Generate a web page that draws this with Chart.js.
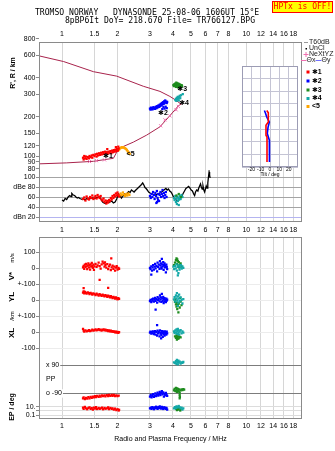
<!DOCTYPE html>
<html>
<head>
<meta charset="utf-8">
<script src="https://cdn.jsdelivr.net/npm/chart.js@4.4.1/dist/chart.umd.min.js"></script>
<style>
  body { margin: 0; background: #fff; }
  #wrap { position: relative; width: 335px; height: 451px; overflow: hidden; background: #fff; }
  canvas { position: absolute; left: 0; top: 0; }
  .hdr { position: absolute; font: 8.1px 'DejaVu Sans Mono', monospace; line-height: 9px; white-space: pre; color: #000; }
  #hptx { position: absolute; left: 272px; top: 1px; width: 59px; height: 10px; background: #ffff00; border: 1px solid #ff0000;
          color: #ff0000; font: 8px 'DejaVu Sans Mono', monospace; line-height: 10px; text-align: center; }
</style>
</head>
<body>
<div id="wrap">
  <canvas id="topChart" width="335" height="245"></canvas>
  <canvas id="lowChart" width="335" height="451"></canvas>
  <canvas id="tiltChart" width="335" height="190"></canvas>
  <div class="hdr" style="left:35px;top:8px">TROMSO NORWAY   DYNASONDE 25-08-06 1606UT 15°E</div>
  <div class="hdr" style="left:65px;top:16px">8pBP6It DoY= 218.670 File= TR766127.BPG</div>
  <div id="hptx">HPTx is OFF!</div>
</div>
<script>
// ---- axes ----
const FREQ_MIN = 0.75, FREQ_MAX = 20.05;
const freqTicks = [1, 1.5, 2, 3, 4, 5, 6, 7, 8, 10, 12, 14, 16, 18];
const heightTicks = [80, 90, 100, 120, 150, 200, 300, 400, 600, 800];
const ampTicks = [20, 40, 60, 80, 100];
const tiltTicks = [-20, -10, 0, 10, 20];

// ---- model profiles, MHz / km ----
const upperCurveFreq = [0.75, 1.02, 1.48, 1.98, 2.76, 3.4, 3.85, 4.1, 4.4];
const upperCurveHt = [592, 535, 447, 413, 345, 315, 288, 272, 253];
const lowerCurveFreq = [0.75, 1.06, 1.48, 1.9, 1.98, 2.11, 2.44, 2.88, 3.4, 3.84, 4.1, 4.28, 4.46];
const lowerCurveHt = [87, 88.5, 91, 96, 107, 117, 128, 145, 168, 204, 227, 244, 253];
const nextyzFreq = [1.41, 1.54, 1.70, 3.43, 3.62, 3.85, 4.16, 4.28];
const nextyzHt = [90.6, 92, 93.4, 171, 190, 204, 227, 241];

// ---- echoes: virtual height [MHz, km] ----
const htRed = [[1.30,97],[1.31,94],[1.32,100],[1.33,96],[1.35,99],[1.36,95],[1.38,98],[1.40,96],[1.41,100],[1.43,98],[1.45,101],[1.46,97],[1.48,102],[1.50,100],[1.52,103],[1.54,99],[1.55,104],[1.57,101],[1.59,105],[1.61,102],[1.63,106],[1.65,103],[1.67,107],[1.69,104],[1.71,108],[1.73,105],[1.75,107],[1.77,104],[1.79,108],[1.81,106],[1.83,109],[1.85,105],[1.87,110],[1.89,107],[1.91,111],[1.93,108],[1.95,112],[1.97,109],[1.99,113],[2.01,110],[2.03,114],[1.76,113],[1.96,117],[2.02,118]];
const htOrange = [[2.03,111],[2.05,113],[2.07,115],[2.09,116],[2.11,117],[2.13,116],[2.15,117],[2.17,116],[2.19,115],[2.21,114],[2.23,113],[2.25,111],[2.27,109],[2.29,107],[2.31,105],[2.33,104]];
const htBlue = [[3.00,232],[3.02,228],[3.04,236],[3.06,230],[3.08,234],[3.10,229],[3.13,238],[3.16,232],[3.18,236],[3.20,231],[3.23,240],[3.26,234],[3.28,242],[3.30,237],[3.33,245],[3.36,239],[3.38,248],[3.40,242],[3.43,252],[3.46,245],[3.48,256],[3.50,249],[3.53,260],[3.56,252],[3.58,264],[3.60,256],[3.63,268],[3.66,259],[3.68,263],[3.70,256],[3.72,261],[3.50,230],[3.60,232],[3.70,234],[3.65,240],[3.55,238]];
const htGreen = [[4.02,352],[4.05,346],[4.07,358],[4.10,349],[4.12,362],[4.14,354],[4.17,368],[4.19,358],[4.21,350],[4.23,364],[4.25,355],[4.28,346],[4.30,360],[4.32,351],[4.35,343],[4.37,356],[4.40,348],[4.43,340],[4.46,352],[4.48,345],[4.15,341],[4.26,338]];
const htCyan = [[4.12,270],[4.15,276],[4.17,266],[4.20,281],[4.22,272],[4.25,286],[4.27,277],[4.30,268],[4.32,283],[4.35,291],[4.38,279],[4.42,294],[4.52,300]];

// ---- echo amplitude [MHz, dB] ----
const ampRed = [[1.30,56],[1.32,59],[1.34,53],[1.36,61],[1.38,57],[1.40,55],[1.42,60],[1.44,58],[1.46,63],[1.48,56],[1.50,59],[1.52,62],[1.54,57],[1.56,64],[1.58,60],[1.60,58],[1.62,62],[1.64,55],[1.66,53],[1.68,57],[1.70,50],[1.72,53],[1.74,47],[1.76,52],[1.78,49],[1.80,54],[1.82,52],[1.84,58],[1.86,55],[1.88,62],[1.90,58],[1.92,64],[1.94,61],[1.96,67],[1.98,63],[2.00,69],[2.02,65],[2.04,61]];
const ampOrange = [[2.05,63],[2.08,67],[2.11,64],[2.14,69],[2.17,65],[2.20,62],[2.23,66],[2.26,63],[2.29,67],[2.32,64]];
const ampBlue = [[3.00,62],[3.03,58],[3.06,66],[3.09,60],[3.12,70],[3.15,64],[3.18,56],[3.21,68],[3.24,62],[3.27,72],[3.30,58],[3.33,66],[3.36,52],[3.39,64],[3.42,70],[3.45,60],[3.48,66],[3.51,74],[3.54,62],[3.57,68],[3.60,58],[3.63,64],[3.66,70],[3.69,60],[3.25,48],[3.28,50],[3.32,54]];
const ampCyan = [[4.05,58],[4.08,54],[4.12,62],[4.15,50],[4.18,56],[4.20,46],[4.22,60],[4.25,52],[4.28,58],[4.30,44],[4.32,55],[4.35,62],[4.40,56],[4.45,64],[4.50,60]];
const ampGreen = [[4.18,63],[4.30,66],[4.42,60]];
const ampSweep = [[1.00,54],[1.02,52],[1.04,57],[1.06,55],[1.08,60],[1.10,63],[1.12,61],[1.13,67],[1.15,64],[1.17,63],[1.19,60],[1.21,58],[1.23,59],[1.25,57],[1.27,56],[1.29,55],[1.31,56],[1.33,54],[1.36,57],[1.40,56],[1.45,58],[1.50,57],[1.55,59],[1.60,60],[1.63,55],[1.66,50],[1.69,48],[1.72,47],[1.75,50],[1.78,49],[1.82,50],[1.86,52],[1.90,48],[1.94,50],[1.98,56],[2.02,66],[2.06,63],[2.10,58],[2.14,62],[2.18,66],[2.22,64],[2.26,68],[2.30,71],[2.34,69],[2.38,74],[2.42,72],[2.46,70],[2.50,73],[2.55,76],[2.60,79],[2.65,82],[2.70,85],[2.74,88],[2.78,84],[2.82,79],[2.86,77],[2.90,74],[2.95,70],[3.00,68],[3.10,66],[3.20,64],[3.30,66],[3.40,68],[3.50,71],[3.60,75],[3.66,77],[3.72,74],[3.78,76],[3.84,72],[3.90,70],[3.96,66],[4.05,58],[4.15,55],[4.25,52],[4.35,56],[4.45,60],[4.54,67],[4.62,72],[4.70,77],[4.78,79],[4.86,81],[4.94,78],[5.02,74],[5.10,72],[5.18,66],[5.24,63],[5.30,70],[5.38,74],[5.46,72],[5.52,78],[5.58,82],[5.64,86],[5.70,80],[5.76,76],[5.82,82],[5.88,74],[5.94,70],[6.00,76],[6.06,82],[6.12,78],[6.18,88],[6.24,102],[6.28,110],[6.32,104],[6.36,98]];

// ---- lower panel: V* [m/s], YL, XL [km], PP [deg], EP [deg] ----
const vsRed = [[1.30,5],[1.31,15],[1.32,-3],[1.33,22],[1.34,8],[1.35,28],[1.36,12],[1.37,-5],[1.38,18],[1.39,30],[1.40,6],[1.41,20],[1.42,-8],[1.43,25],[1.44,10],[1.45,33],[1.46,15],[1.47,2],[1.48,22],[1.49,-10],[1.50,12],[1.52,27],[1.54,8],[1.56,18],[1.58,35],[1.60,14],[1.62,-2],[1.64,24],[1.66,42],[1.68,30],[1.70,10],[1.71,36],[1.72,20],[1.74,4],[1.76,26],[1.78,-6],[1.80,12],[1.82,22],[1.84,-12],[1.86,6],[1.88,16],[1.90,-4],[1.92,10],[1.94,-15],[1.96,4],[1.98,14],[2.00,-8],[2.02,2],[2.04,-3],[1.60,-73],[1.85,62]];
const ylRed = [[1.30,48],[1.31,55],[1.32,44],[1.33,52],[1.35,47],[1.36,42],[1.38,50],[1.40,45],[1.41,38],[1.43,46],[1.45,40],[1.46,35],[1.48,43],[1.50,38],[1.52,33],[1.54,41],[1.56,36],[1.58,30],[1.60,38],[1.62,33],[1.64,28],[1.66,35],[1.68,30],[1.70,25],[1.72,32],[1.74,27],[1.76,22],[1.78,29],[1.80,24],[1.82,18],[1.84,26],[1.86,20],[1.88,14],[1.90,22],[1.92,16],[1.94,10],[1.96,18],[1.98,12],[2.00,6],[2.02,14],[2.04,9],[1.31,76],[1.78,78]];
const xlRed = [[1.30,22],[1.31,10],[1.32,4],[1.34,12],[1.36,6],[1.38,9],[1.40,14],[1.42,8],[1.44,11],[1.46,16],[1.48,10],[1.50,13],[1.52,18],[1.54,12],[1.56,15],[1.58,20],[1.60,13],[1.62,17],[1.64,11],[1.66,15],[1.68,19],[1.70,12],[1.72,16],[1.74,10],[1.76,14],[1.78,8],[1.80,12],[1.82,6],[1.84,10],[1.86,4],[1.88,8],[1.90,2],[1.92,6],[1.94,0],[1.96,4],[1.98,-2],[2.00,3],[2.02,-4],[2.04,1]];
const ppRed = [[1.30,-122],[1.31,-116],[1.33,-126],[1.35,-119],[1.37,-124],[1.39,-114],[1.41,-121],[1.43,-112],[1.45,-118],[1.47,-110],[1.49,-116],[1.51,-108],[1.53,-114],[1.55,-106],[1.58,-112],[1.60,-104],[1.62,-110],[1.65,-102],[1.67,-108],[1.70,-103],[1.72,-109],[1.75,-101],[1.78,-107],[1.80,-100],[1.83,-106],[1.86,-99],[1.88,-105],[1.91,-100],[1.94,-107],[1.97,-102],[2.00,-108],[2.03,-104]];
const epRed = [[1.30,6],[1.31,3],[1.33,9],[1.35,4],[1.37,2.5],[1.39,5],[1.41,7],[1.43,3],[1.45,4.5],[1.47,2],[1.49,6],[1.51,3.5],[1.53,8],[1.55,2.8],[1.58,5],[1.60,3],[1.62,4],[1.65,6],[1.67,2.4],[1.70,5],[1.72,3.2],[1.75,4],[1.78,7],[1.80,2.6],[1.83,5],[1.86,3],[1.88,4],[1.91,2],[1.94,3.5],[1.97,1.5],[2.00,2.5],[2.03,1.2],[2.04,1.8]];
const vsBlue = [[3.00,2],[3.02,-5],[3.05,12],[3.08,-15],[3.10,5],[3.12,20],[3.15,-8],[3.18,10],[3.20,28],[3.22,0],[3.25,15],[3.28,-20],[3.30,35],[3.32,8],[3.35,22],[3.38,-3],[3.40,45],[3.42,18],[3.44,30],[3.46,5],[3.48,58],[3.50,25],[3.52,12],[3.54,38],[3.56,-10],[3.58,20],[3.60,30],[3.62,6],[3.64,15],[3.66,-25],[3.68,22],[3.70,8],[3.72,-5],[3.05,-40],[3.47,-2]];
const ylBlue = [[3.00,-5],[3.02,3],[3.05,-12],[3.08,6],[3.10,-2],[3.12,10],[3.15,-8],[3.18,4],[3.20,15],[3.22,-4],[3.25,8],[3.28,-15],[3.30,20],[3.32,2],[3.35,12],[3.38,-6],[3.40,30],[3.42,6],[3.44,18],[3.46,-10],[3.48,40],[3.50,10],[3.52,-3],[3.54,22],[3.56,-18],[3.58,8],[3.60,14],[3.62,-6],[3.64,2],[3.66,-12],[3.68,10],[3.70,-2],[3.72,4],[3.22,-58]];
const xlBlue = [[3.00,-2],[3.02,4],[3.05,-8],[3.08,2],[3.10,-5],[3.12,6],[3.15,-12],[3.18,0],[3.20,8],[3.22,-15],[3.25,3],[3.28,-20],[3.30,10],[3.32,-6],[3.35,2],[3.38,-25],[3.40,12],[3.42,-8],[3.44,-2],[3.46,-18],[3.48,8],[3.50,-4],[3.52,-28],[3.54,5],[3.56,-12],[3.58,-2],[3.60,-20],[3.62,6],[3.64,-8],[3.66,0],[3.68,-14],[3.70,4],[3.72,-6],[3.28,45],[3.45,-38]];
const ppBlue = [[3.00,-110],[3.03,-100],[3.06,-115],[3.09,-105],[3.12,-95],[3.15,-112],[3.18,-102],[3.21,-90],[3.24,-108],[3.27,-98],[3.30,-85],[3.33,-104],[3.36,-94],[3.39,-80],[3.42,-100],[3.45,-88],[3.48,-75],[3.51,-96],[3.54,-84],[3.57,-110],[3.60,-92],[3.63,-102],[3.66,-86],[3.69,-98],[3.72,-106]];
const epBlue = [[3.00,4],[3.03,6],[3.06,3],[3.09,8],[3.12,5],[3.15,2.5],[3.18,7],[3.21,4],[3.24,10],[3.27,5],[3.30,3],[3.33,8],[3.36,4.5],[3.39,12],[3.42,6],[3.45,3.5],[3.48,9],[3.51,5],[3.54,2.8],[3.57,7],[3.60,4],[3.63,6],[3.66,3],[3.69,5],[3.72,2]];
const vsGreen = [[4.05,20],[4.10,35],[4.15,50],[4.18,62],[4.20,28],[4.25,45],[4.28,15],[4.30,38],[4.35,22],[4.40,30],[4.45,10],[4.22,55],[4.32,5]];
const vsCyan = [[4.02,10],[4.06,-5],[4.10,15],[4.14,0],[4.18,25],[4.20,-15],[4.24,8],[4.28,-30],[4.30,18],[4.34,-8],[4.38,5],[4.42,20],[4.46,-2],[4.50,12],[4.55,3],[4.25,-45]];
const ylGreen = [[4.10,-10],[4.15,-25],[4.18,-40],[4.20,-15],[4.22,-55],[4.25,-30],[4.28,-75],[4.30,-20],[4.35,-45],[4.40,-8],[4.45,-30],[4.12,5],[4.38,15]];
const ylCyan = [[4.05,5],[4.08,20],[4.12,-8],[4.15,30],[4.18,12],[4.20,45],[4.22,0],[4.25,25],[4.28,-15],[4.30,10],[4.32,35],[4.35,-5],[4.40,18],[4.45,2],[4.50,-20],[4.55,8],[4.25,-35]];
const xlGreen = [[4.10,-25],[4.15,-35],[4.18,-20],[4.20,-45],[4.22,-30],[4.25,-40],[4.28,-22],[4.30,-38],[4.35,-28],[4.40,-32]];
const xlCyan = [[4.05,5],[4.08,-5],[4.12,12],[4.15,0],[4.18,18],[4.20,-10],[4.22,8],[4.25,22],[4.28,-3],[4.30,10],[4.32,-15],[4.35,4],[4.40,14],[4.45,-6],[4.50,6],[4.55,-2]];
const ppGreen = [[4.05,-70],[4.08,-60],[4.12,-75],[4.15,-55],[4.18,-68],[4.20,-80],[4.22,-58],[4.25,-72],[4.28,-62],[4.30,-78],[4.32,-66],[4.35,-85],[4.35,-100],[4.36,-112],[4.35,-122],[4.40,-70],[4.45,-64],[4.50,-68],[4.55,-62],[4.60,-66]];
const ppCyan = [[4.05,110],[4.10,105],[4.15,118],[4.18,100],[4.20,125],[4.22,112],[4.25,96],[4.28,120],[4.30,108],[4.35,115],[4.40,102],[4.45,110],[4.50,106],[4.55,112]];
const epCyan = [[4.05,4],[4.10,8],[4.15,3],[4.18,12],[4.20,6],[4.22,2.5],[4.25,9],[4.28,5],[4.30,15],[4.32,4],[4.35,7],[4.40,3],[4.45,6],[4.50,2],[4.55,4]];
const epGreen = [[4.20,1.5],[4.28,2],[4.38,1.2]];

// ---- tilt profiles [deg, km] ----
const thetaXDeg = [-3.5, -1.8, -1.8, -4.3, -4.3, -3.2, -3.2];
const thetaXHt = [224, 215, 178, 165, 126, 118, 20];
const thetaYDeg = [-6, -4.8, -3.5, -0.7, -2.1, -2.9, -0.7, -0.5, -0.7];
const thetaYHt = [224, 213, 198, 178, 157, 133, 106, 66, 20];

// trace tags inside the height panel [text, MHz, km]
const tagSpots = [['✱1', 1.67, 100], ['✱2', 3.32, 215], ['✱3', 4.22, 331], ['✱4', 4.32, 257], ['<5', 2.24, 103]];

const RED = '#ff0000', BLUE = '#0000ff', GREEN = '#1e8c1e', CYAN = '#14a8a8', ORANGE = '#ffa500';
const MAROON = '#a8234c', PINK = '#f070b0', FRAME = '#8a8a8a', VGRID = '#d6d6d6';
const FONT = "'Liberation Sans', 'DejaVu Sans', sans-serif";

Chart.defaults.font.family = FONT;
Chart.defaults.font.size = 7;
Chart.defaults.color = '#000';
Chart.defaults.animation = false;

const xy = list => list.map(([x, y]) => ({x, y}));
const zip = (xs, ys) => xs.map((x, i) => ({x, y: ys[i]}));

function dots(list, color, yAxisID) {
  return {type: 'scatter', data: xy(list), yAxisID, backgroundColor: color, borderWidth: 0,
          pointStyle: 'rect', pointRadius: 1.6, pointHoverRadius: 1.6};
}
function trace(data, color, yAxisID, width) {
  return {type: 'line', data, yAxisID, borderColor: color, borderWidth: width, pointRadius: 0,
          fill: false, tension: 0};
}

function text(ctx, str, x, y, font, color, align, rot) {
  ctx.save();
  ctx.translate(x, y);
  if (rot) ctx.rotate(rot);
  ctx.font = font;
  ctx.fillStyle = color;
  ctx.textAlign = align || 'center';
  ctx.textBaseline = 'middle';
  ctx.fillText(str, 0, 0);
  ctx.restore();
}
function seg(ctx, x1, y1, x2, y2, color, w) {
  ctx.save();
  ctx.strokeStyle = color;
  ctx.lineWidth = w || 1;
  ctx.beginPath();
  ctx.moveTo(x1, y1);
  ctx.lineTo(x2, y2);
  ctx.stroke();
  ctx.restore();
}
function frame(ctx, a, color) {
  ctx.save();
  ctx.strokeStyle = color;
  ctx.lineWidth = 1;
  ctx.strokeRect(a.left + 0.5, a.top + 0.5, a.right - a.left - 1, a.bottom - a.top - 1);
  ctx.restore();
}

const setTicks = list => s => { s.ticks = list.map(v => ({value: v})); };
const fixWidth = w => s => { s.width = w; };
const fixHeight = h => s => { s.height = h; };

function freqAxis(position, padding, showGrid) {
  return {
    type: 'logarithmic', position, min: FREQ_MIN, max: FREQ_MAX,
    afterBuildTicks: setTicks(freqTicks),
    grid: {display: showGrid, color: VGRID, drawTicks: false},
    border: {display: false},
    ticks: {autoSkip: false, maxRotation: 0, padding, callback: v => String(v)}
  };
}
function leftAxis(extra, labels, ticks) {
  return Object.assign({
    position: 'left', border: {display: false}, afterFit: fixWidth(39),
    afterBuildTicks: setTicks(ticks),
    ticks: {autoSkip: false, padding: 0.5,
            callback: v => (labels && labels[v] !== undefined) ? labels[v] : String(v)}
  }, extra);
}

// ---------- height + amplitude panels ----------
const topDecor = {
  id: 'topDecor',
  afterDraw(chart) {
    const {ctx, chartArea: a, scales: s} = chart;
    frame(ctx, a, FRAME);
    text(ctx, "R', R / km", 13, 73, 'bold 7px ' + FONT, '#000', 'center', -Math.PI / 2);
    tagSpots.forEach(([t, f, h]) => {
      text(ctx, t, s.x.getPixelForValue(f), s.yH.getPixelForValue(h), 'bold 7px ' + FONT, '#000', 'left');
    });
    // legend column
    const f7 = '7px ' + FONT;
    seg(ctx, 304, 42.5, 308, 42.5, '#999');
    text(ctx, 'T60dB', 309, 42.5, f7, '#222', 'left');
    ctx.fillStyle = '#000';
    ctx.fillRect(305.5, 48, 1.5, 1.5);
    text(ctx, 'UnCl', 309, 48.5, f7, '#222', 'left');
    seg(ctx, 303.5, 54.5, 308.5, 54.5, PINK);
    seg(ctx, 306, 52, 306, 57, PINK);
    text(ctx, 'NeXtYZ', 309, 54.5, f7, '#222', 'left');
    seg(ctx, 301, 60.5, 306.5, 60.5, PINK);
    text(ctx, 'Θx', 306.5, 60.5, f7, '#222', 'left');
    seg(ctx, 315.5, 60.5, 321.5, 60.5, '#7070ff');
    text(ctx, 'Θy', 321.5, 60.5, f7, '#222', 'left');
    [['✱1', RED, 72], ['✱2', BLUE, 81], ['✱3', GREEN, 90], ['✱4', CYAN, 98.5], ['<5', ORANGE, 106.5]].forEach(([t, c, y]) => {
      ctx.fillStyle = c;
      ctx.fillRect(306.5, y - 1.5, 3, 3);
      text(ctx, t, 312, y, 'bold 7px ' + FONT, '#000', 'left');
    });
  }
};

new Chart(document.getElementById('topChart'), {
  type: 'scatter',
  data: {
    datasets: [
      dots(htRed, RED, 'yH'), dots(htOrange, ORANGE, 'yH'), dots(htBlue, BLUE, 'yH'),
      dots(htGreen, GREEN, 'yH'), dots(htCyan, CYAN, 'yH'),
      {type: 'scatter', data: zip(nextyzFreq, nextyzHt), yAxisID: 'yH', pointStyle: 'crossRot',
       pointRadius: 2.2, borderColor: PINK, borderWidth: 1},
      dots(ampRed, RED, 'yA'), dots(ampOrange, ORANGE, 'yA'), dots(ampBlue, BLUE, 'yA'),
      dots(ampGreen, GREEN, 'yA'), dots(ampCyan, CYAN, 'yA'),
      trace(xy(ampSweep), '#000', 'yA', 1.3),
      trace(zip(upperCurveFreq, upperCurveHt), MAROON, 'yH', 1),
      trace(zip(lowerCurveFreq, lowerCurveHt), MAROON, 'yH', 1)
    ]
  },
  options: {
    responsive: false, devicePixelRatio: 1, events: [],
    layout: {padding: {top: 30, left: 0, right: 33, bottom: 9}},
    plugins: {legend: {display: false}, tooltip: {enabled: false}},
    scales: {
      x: Object.assign(freqAxis('top', 4, true), {afterFit: fixHeight(12)}),
      x2: Object.assign(freqAxis('bottom', 4, false), {afterFit: fixHeight(14)}),
      yH: leftAxis({type: 'logarithmic', min: 78, max: 757, stack: 'top', stackWeight: 128, weight: 2,
                    grid: {drawOnChartArea: false, tickLength: 3, color: FRAME}}, null, heightTicks),
      yA: leftAxis({type: 'linear', min: 10, max: 114, stack: 'top', stackWeight: 52, weight: 1,
                    grid: {tickLength: 3, tickColor: FRAME,
                           color: c => (c.tick && c.tick.value === 20) ? '#b4b4f0' : '#a4a4a4'}},
                   {20: 'dBn 20', 80: 'dBe 80'}, ampTicks)
    }
  },
  plugins: [topDecor]
});

// ---------- drift velocity, location, polarisation panels ----------
const lowDecor = {
  id: 'lowDecor',
  afterDraw(chart) {
    const {ctx, chartArea: a} = chart;
    frame(ctx, a, FRAME);
    const up = -Math.PI / 2;
    text(ctx, 'V*', 12, 276, 'bold 8px ' + FONT, '#000', 'center', up);
    text(ctx, 'm/s', 12, 258, '6px ' + FONT, '#000', 'center', up);
    text(ctx, 'YL', 12, 297, 'bold 8px ' + FONT, '#000', 'center', up);
    text(ctx, '/km', 12, 316, '6px ' + FONT, '#000', 'center', up);
    text(ctx, 'XL', 12, 333, 'bold 8px ' + FONT, '#000', 'center', up);
    text(ctx, 'EP / deg', 12, 407, 'bold 7px ' + FONT, '#000', 'center', up);
  }
};
const lightGrid = {tickLength: 3, tickColor: FRAME, color: '#ececec'};

new Chart(document.getElementById('lowChart'), {
  type: 'scatter',
  data: {
    datasets: [
      dots(vsRed, RED, 'yV'), dots(vsBlue, BLUE, 'yV'), dots(vsCyan, CYAN, 'yV'), dots(vsGreen, GREEN, 'yV'),
      dots(ylRed, RED, 'yY'), dots(ylBlue, BLUE, 'yY'), dots(ylCyan, CYAN, 'yY'), dots(ylGreen, GREEN, 'yY'),
      dots(xlRed, RED, 'yX'), dots(xlBlue, BLUE, 'yX'), dots(xlCyan, CYAN, 'yX'), dots(xlGreen, GREEN, 'yX'),
      dots(ppRed, RED, 'yP'), dots(ppBlue, BLUE, 'yP'), dots(ppGreen, GREEN, 'yP'), dots(ppCyan, CYAN, 'yP'),
      dots(epRed, RED, 'yE'), dots(epBlue, BLUE, 'yE'), dots(epGreen, GREEN, 'yE'), dots(epCyan, CYAN, 'yE')
    ]
  },
  options: {
    responsive: false, devicePixelRatio: 1, events: [],
    layout: {padding: {top: 237, left: 0, right: 33, bottom: 8}},
    plugins: {legend: {display: false}, tooltip: {enabled: false}},
    scales: {
      x: Object.assign(freqAxis('bottom', 3, true), {
        afterFit: fixHeight(24),
        title: {display: true, text: 'Radio and Plasma Frequency / MHz', padding: {top: 0, bottom: 0}, font: {size: 7}}
      }),
      yV: leftAxis({type: 'linear', min: -100, max: 195, stack: 'low', stackWeight: 47.3, weight: 5, grid: lightGrid},
                   null, [0, 100]),
      yY: leftAxis({type: 'linear', min: -100, max: 100, stack: 'low', stackWeight: 32, weight: 4, grid: lightGrid},
                   {100: '+-100'}, [0, 100]),
      yX: leftAxis({type: 'linear', min: -100, max: 100, stack: 'low', stackWeight: 32, weight: 3, grid: lightGrid},
                   {100: '+-100'}, [-100, 0, 100]),
      yP: leftAxis({type: 'linear', min: -145, max: 200, stack: 'low', stackWeight: 53.7, weight: 2,
                    grid: {drawTicks: false, color: c => (c.tick && c.tick.value !== 0) ? '#7c7c7c' : 'rgba(0,0,0,0)'}},
                   {90: 'x 90', 0: 'PP', '-90': 'o -90'}, [-90, 0, 90]),
      yE: leftAxis({type: 'logarithmic', min: 0.011, max: 135, stack: 'low', stackWeight: 17, weight: 1,
                    grid: {tickLength: 3, tickColor: FRAME, color: '#dcdcdc'}},
                   {10: '10.', 1: '', 0.1: '0.1'}, [0.1, 1, 10])
    }
  },
  plugins: [lowDecor]
});
// PP labels sit inside the panel, over a white backdrop that starts at the axis
const lowChart = Chart.getChart('lowChart');
Object.assign(lowChart.options.scales.yP.ticks, {mirror: true, padding: 7, showLabelBackdrop: true,
  backdropColor: '#fff', backdropPadding: {top: 0, bottom: 0, left: 6, right: 1}});
lowChart.update();

// ---------- tilt inset ----------
const tiltDecor = {
  id: 'tiltDecor',
  beforeDraw(chart) {
    const {ctx, chartArea: a} = chart;
    ctx.save();
    ctx.fillStyle = '#fff';
    ctx.fillRect(a.left, a.top, a.right - a.left, a.bottom - a.top);
    ctx.restore();
  },
  afterDraw(chart) {
    frame(chart.ctx, chart.chartArea, '#9c9cb4');
  }
};

new Chart(document.getElementById('tiltChart'), {
  type: 'scatter',
  data: {
    datasets: [
      trace(zip(thetaXDeg, thetaXHt), RED, 'y', 1.6),
      trace(zip(thetaYDeg, thetaYHt), BLUE, 'y', 1.6)
    ]
  },
  options: {
    responsive: false, devicePixelRatio: 1, events: [],
    layout: {padding: {top: 66, left: 242, right: 37, bottom: 12}},
    plugins: {legend: {display: false}, tooltip: {enabled: false}},
    scales: {
      x: {type: 'linear', min: -30, max: 30, afterBuildTicks: setTicks(tiltTicks), afterFit: fixHeight(11),
          grid: {color: '#c4c4d4', drawTicks: false}, border: {display: false},
          ticks: {font: {size: 5}, padding: 0, autoSkip: false, maxRotation: 0},
          title: {display: true, text: 'Tilt / deg', font: {size: 5}, padding: {top: 0, bottom: 0}}},
      y: {type: 'linear', min: 0, max: 400, afterFit: fixWidth(0),
          ticks: {display: false, stepSize: 50}, grid: {color: '#c4c4d4', drawTicks: false}, border: {display: false}}
    }
  },
  plugins: [tiltDecor]
});
</script>
</body>
</html>
